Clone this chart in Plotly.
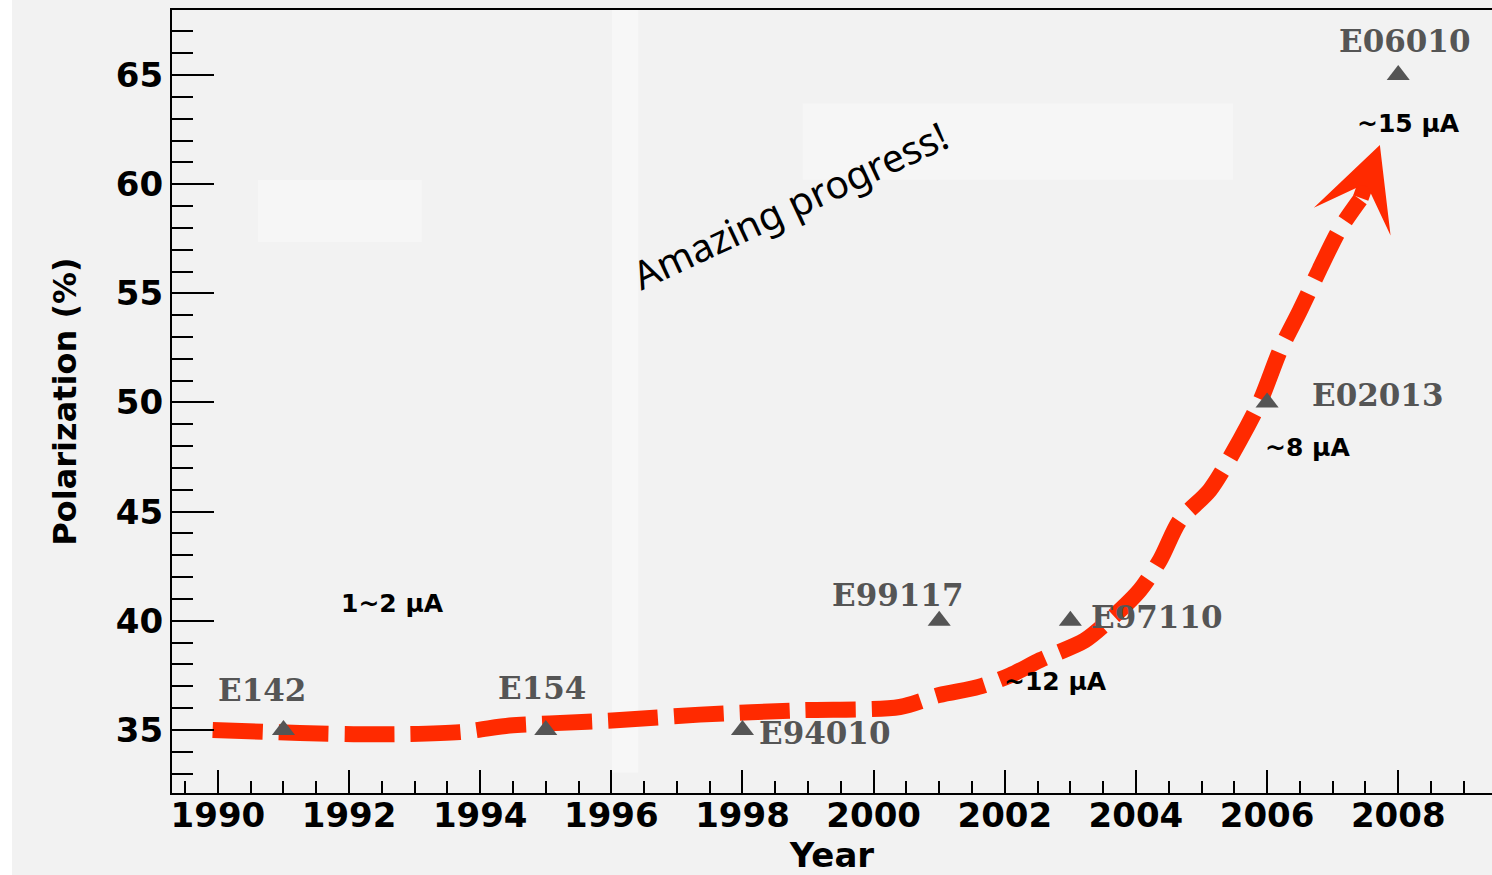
import plotly.graph_objects as go

# Polarized 3He target experiments at SLAC / JLab
exp_names = ["E142", "E154", "E94010", "E99117", "E97110", "E02013", "E06010"]
exp_year = [1991, 1995, 1998, 2001, 2003, 2006, 2008]
exp_pol = [35, 35, 35, 40, 40, 50, 65]

# label anchor positions (year, polarization, x-anchor)
label_year = [1990.67, 1994.94, 1998.22, 2000.37, 2003.28, 2006.66, 2008.09]
label_pol = [36.85, 36.92, 34.86, 41.18, 40.18, 50.35, 66.56]
label_anchor = ["center", "center", "left", "center", "left", "left", "center"]

# beam current notes
current_text = ["1~2 μA", "~12 μA", "~8 μA", "~15 μA"]
current_year = [1992.67, 2002.78, 2006.61, 2008.15]
current_pol = [40.8, 37.2, 47.96, 62.76]

# hand-drawn trend of the achieved polarization
trend_year = [1989.92, 1991.25, 1992.47, 1993.69, 1994.45, 1995.06, 1996.13,
              1997.35, 1998.88, 2000.4, 2001.0, 2001.6, 2002.08, 2002.54,
              2003.22, 2003.6, 2004.06, 2004.37, 2004.67, 2005.13, 2005.59,
              2005.9, 2006.2, 2006.5, 2006.8, 2007.1, 2007.42]
trend_pol = [35.0, 34.86, 34.8, 34.9, 35.2, 35.3, 35.45, 35.7, 35.9, 36.05,
             36.6, 36.97, 37.5, 38.2, 39.1, 40.04, 41.4, 42.8, 44.6, 46.0,
             48.3, 50.1, 52.4, 54.2, 56.1, 57.9, 59.3]
arrow_tip = (2007.72, 61.8)

x_range = [1989.3, 2009.43]
y_range = [32.11, 67.98]

RED = "#ff2a00"
GREY = "#555555"
BG = "#f2f2f2"

fig = go.Figure()

fig.add_trace(go.Scatter(
    x=trend_year, y=trend_pol, mode="lines",
    line=dict(color=RED, width=16, dash="50px,16px", shape="spline", smoothing=0.8),
    hoverinfo="skip", showlegend=False,
))

fig.add_trace(go.Scatter(
    x=exp_year, y=exp_pol, mode="markers",
    marker=dict(symbol="triangle-up", size=20, color=GREY, line=dict(width=0)),
    showlegend=False,
))

annotations = []
for name, xv, yv, anc in zip(exp_names, label_year, label_pol, label_anchor):
    annotations.append(dict(
        x=xv, y=yv, text=name, showarrow=False, xanchor=anc, yanchor="middle",
        font=dict(family="DejaVu Serif", size=31, color=GREY, weight="bold"),
    ))
for txt, xv, yv in zip(current_text, current_year, current_pol):
    annotations.append(dict(
        x=xv, y=yv, text=txt, showarrow=False, xanchor="center", yanchor="middle",
        font=dict(family="DejaVu Sans", size=25, color="black", weight="bold"),
    ))

# arrow head at the end of the trend
annotations.append(dict(
    x=arrow_tip[0], y=arrow_tip[1], ax=trend_year[-1], ay=trend_pol[-1],
    xref="x", yref="y", axref="x", ayref="y", text="", showarrow=True,
    arrowhead=3, arrowwidth=16, arrowsize=0.85, arrowcolor=RED,
))

annotations.append(dict(
    x=1998.72, y=59.05, text="Amazing progress!", showarrow=False, textangle=-25,
    xanchor="center", yanchor="middle",
    font=dict(family="Noto Sans", size=39, color="black"),
))

shapes = [
    dict(type="rect", xref="paper", yref="paper", x0=-0.1303, x1=-0.1212,
         y0=-0.2, y1=1.02, fillcolor="white", line=dict(width=0), layer="below"),
    dict(type="rect", xref="x", yref="y", x0=1996.01, x1=1996.41, y0=33.05, y1=y_range[1],
         fillcolor="#f7f7f7", line=dict(width=0), layer="below"),
    dict(type="rect", xref="x", yref="y", x0=1990.61, x1=1993.11, y0=57.35, y1=60.19,
         fillcolor="#f6f6f6", line=dict(width=0), layer="below"),
    dict(type="rect", xref="x", yref="y", x0=1998.92, x1=2005.48, y0=60.2, y1=63.7,
         fillcolor="#f6f6f6", line=dict(width=0), layer="below"),
]

fig.update_layout(
    width=1492, height=875,
    margin=dict(l=172, r=0, t=10, b=82),
    paper_bgcolor=BG, plot_bgcolor=BG,
    annotations=annotations, shapes=shapes,
    showlegend=False,
)

fig.update_xaxes(
    range=x_range, tick0=1990, dtick=2, ticks="inside", ticklen=23, tickwidth=2,
    tickcolor="black", showline=True, linecolor="black", linewidth=2, mirror=True,
    showgrid=False, zeroline=False, ticklabelstandoff=-9,
    minor=dict(dtick=0.5, ticks="inside", ticklen=12, tickwidth=2, tickcolor="black",
               showgrid=False),
    tickfont=dict(family="DejaVu Sans", size=34, color="black", weight="bold"),
    title=dict(text="Year", standoff=4,
               font=dict(family="DejaVu Sans", size=34, color="black", weight="bold")),
)
fig.update_yaxes(
    range=y_range, tick0=35, dtick=5, ticks="inside", ticklen=42, tickwidth=2,
    tickcolor="black", showline=True, linecolor="black", linewidth=2,
    showgrid=False, zeroline=False,
    minor=dict(dtick=1, ticks="inside", ticklen=21, tickwidth=2, tickcolor="black",
               showgrid=False),
    tickfont=dict(family="DejaVu Sans", size=34, color="black", weight="bold"),
    title=dict(text="Polarization (%)", standoff=30,
               font=dict(family="DejaVu Sans", size=32, color="black", weight="bold")),
)

fig.write_html("out.html")
